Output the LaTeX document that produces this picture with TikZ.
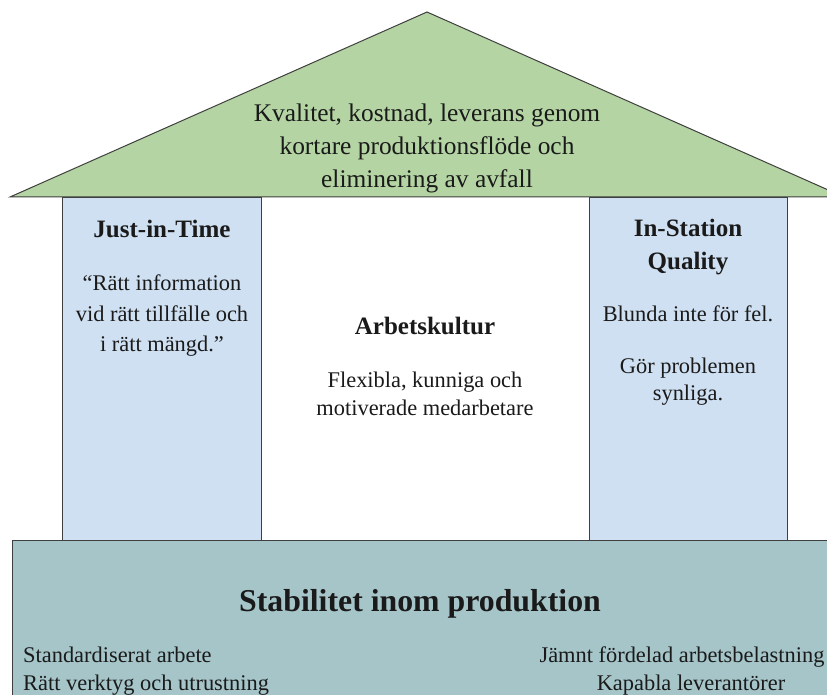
\documentclass[tikz,border=0pt]{standalone}
\usepackage{fontspec}
\newfontfamily\tnr{Liberation Serif}
\definecolor{roofgreen}{HTML}{B4D5A3}
\definecolor{pillarblue}{HTML}{CFE0F2}
\definecolor{basecol}{HTML}{A5C5C9}
\definecolor{edgecol}{HTML}{3F3F3F}
\definecolor{txtcol}{HTML}{1A1A1A}
\tikzset{
  part/.style={draw=edgecol, line width=1pt},
  rooftxt/.style={align=center, inner sep=0pt, text=txtcol, font=\tnr\fontsize{25.4}{33}\selectfont},
  titletxt/.style={align=center, inner sep=0pt, text=txtcol, font=\tnr\fontsize{25}{33}\selectfont\bfseries},
  bodytxt/.style={align=center, inner sep=0pt, text=txtcol, font=\tnr\fontsize{22.4}{27}\selectfont},
  basetitle/.style={align=center, inner sep=0pt, text=txtcol, font=\tnr\fontsize{31.8}{36}\selectfont\bfseries},
  basetxt/.style={inner sep=0pt, text=txtcol, font=\tnr\fontsize{22.4}{28}\selectfont}
}
\begin{document}
\begin{tikzpicture}[x=1pt, y=-1pt]
\useasboundingbox (0,0) rectangle (827,695);
\clip (0,0) rectangle (827,695);
\fill[white] (0,0) rectangle (827,695);
% base
\draw[part, fill=basecol] (12,540) rectangle (840,710);
% pillars
\draw[part, fill=pillarblue] (62,198) rectangle (261,540);
\draw[part, fill=pillarblue] (589,198) rectangle (787,540);
% roof
\draw[part, fill=roofgreen, line join=miter] (10,197) -- (427,12) -- (844,197) -- cycle;
% roof text
\node[rooftxt] (rooftext) at (427,148) {Kvalitet, kostnad, leverans genom\\kortare produktionsflöde och\\eliminering av avfall};
% left pillar
\node[titletxt] (jit) at (162,229) {Just-in-Time};
\node[bodytxt, font=\tnr\fontsize{22.4}{30.5}\selectfont] (jittext) at (162,316) {“Rätt information\\vid rätt tillfälle och\\i rätt mängd.”};
% middle
\node[titletxt] (ak) at (425,326) {Arbetskultur};
\node[bodytxt, font=\tnr\fontsize{22.4}{28}\selectfont] (aktext) at (425,394) {Flexibla, kunniga och\\motiverade medarbetare};
% right pillar
\node[titletxt] (isq) at (688,247) {In-Station\\Quality};
\node[bodytxt] (isq1) at (688,314) {Blunda inte för fel.};
\node[bodytxt] (isq2) at (688,382) {Gör problemen\\synliga.};
% base
\node[basetitle] (stab) at (420,604) {Stabilitet inom produktion};
\node[basetxt, align=left, anchor=west] (baseleft) at (23,671) {Standardiserat arbete\\Rätt verktyg och utrustning};
\node[basetxt, align=center] (baseright) at (682,671) {Jämnt fördelad arbetsbelastning\\\hspace*{18pt}Kapabla leverantörer};
\end{tikzpicture}
\end{document}
